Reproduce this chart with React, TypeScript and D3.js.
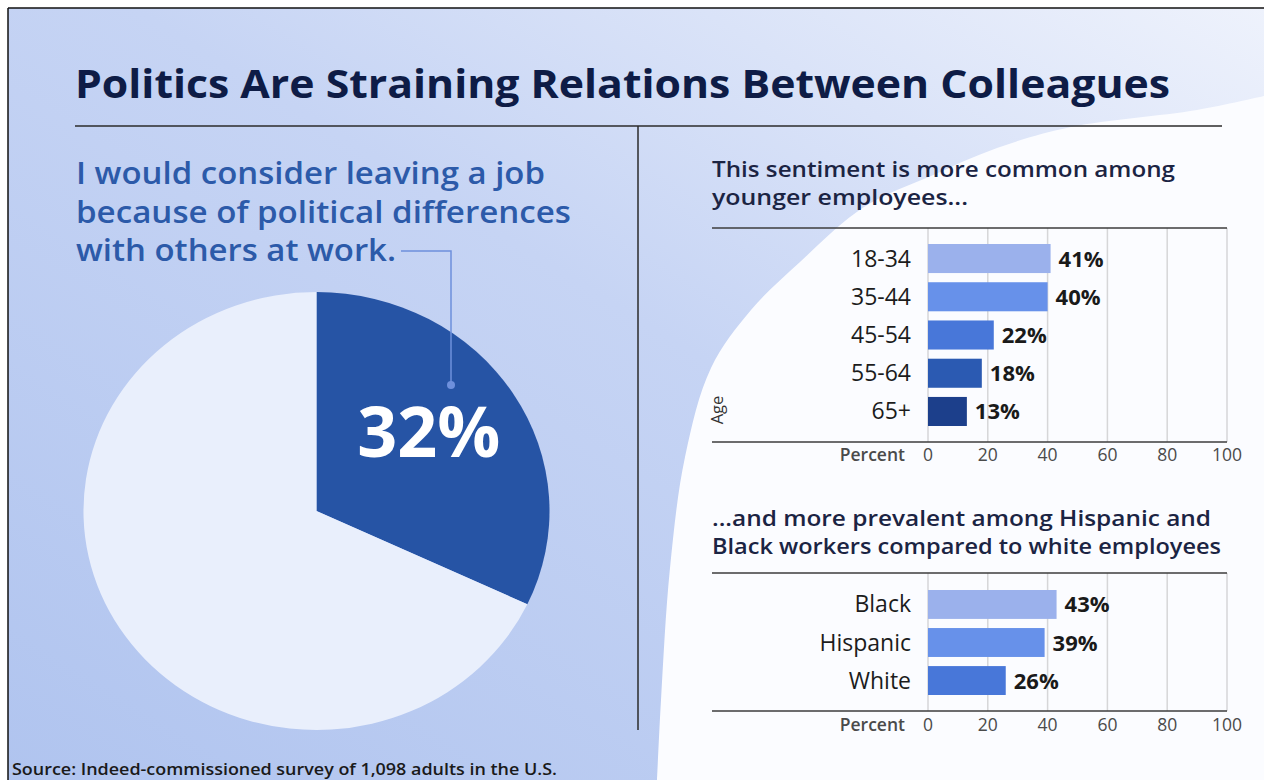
import React from "react";
import * as d3 from "d3";

const pieValues = [32, 68];
const pieLabel = "32%";
const ageCategories = ["18-34", "35-44", "45-54", "55-64", "65+"];
const ageValues = [41, 40, 22, 18, 13];
const ageColors = ["#9bb1ec", "#6791ea", "#4877d9", "#2b5ab2", "#1c3f8b"];
const raceCategories = ["Black", "Hispanic", "White"];
const raceValues = [43, 39, 26];
const raceColors = ["#9bb1ec", "#6791ea", "#4877d9"];
const xTicks = [0, 20, 40, 60, 80, 100];

const FONT = "'Open Sans', 'Noto Sans', sans-serif";

// decorative background arc (white swoosh)
const arcPts: [number, number][] = [
  [1264, 96], [1197, 110], [1071, 127], [997, 148], [931, 176], [864, 207],
  [800, 262], [751, 310], [711, 368], [685, 457], [670, 568], [661, 700], [657, 780],
];

function BarPanel({ cats, vals, colors, top, bottom, barTop, barBottom, tickY, showAge }: any) {
  const x = d3.scaleLinear().domain([0, 100]).range([928, 1227]);
  const y = d3.scaleBand<string>().domain(cats).range([barTop, barBottom]).paddingInner(0.24).paddingOuter(0);
  return (
    <g>
      {xTicks.map((t) => (
        <line key={"g" + t} x1={x(t)} x2={x(t)} y1={top} y2={bottom} stroke="#d6d6d8" strokeWidth={1.5} />
      ))}
      <line x1={712} x2={x(100)} y1={top} y2={top} stroke="#3c3c3c" strokeWidth={1.5} />
      <line x1={712} x2={x(100)} y1={bottom} y2={bottom} stroke="#3c3c3c" strokeWidth={1.5} />
      {cats.map((c: string, i: number) => (
        <g key={c}>
          <rect x={x(0)} y={y(c)} width={x(vals[i]) - x(0)} height={y.bandwidth()} fill={colors[i]} />
          <text x={911} y={(y(c) as number) + y.bandwidth() / 2 + 8} textAnchor="end" fontSize={23} fontWeight={500} fill="#1c1c1c">{c}</text>
          <text x={x(vals[i]) + 8} y={(y(c) as number) + y.bandwidth() / 2 + 8} fontSize={22} fontWeight={700} fill="#1a1a1a">{vals[i] + "%"}</text>
        </g>
      ))}
      {xTicks.map((t) => (
        <text key={"t" + t} x={x(t)} y={tickY} textAnchor="middle" fontSize={17.5} fontWeight={500} fill="#4a4a4a">{t}</text>
      ))}
      <text x={905} y={tickY} textAnchor="end" fontSize={17.5} fontWeight={600} fill="#4a4a4a">Percent</text>
      {showAge && (
        <text transform={`translate(723,${bottom - 32}) rotate(-90)`} textAnchor="middle" fontSize={16.5} fontWeight={500} fill="#333">Age</text>
      )}
    </g>
  );
}

export default function App() {
  const pie = d3.pie<number>().sort(null)(pieValues);
  const R = 219;
  const arc = d3.arc<d3.PieArcDatum<number>>().innerRadius(0).outerRadius(R);
  const labelArc = d3.arc<d3.PieArcDatum<number>>().innerRadius(0).outerRadius(250);
  const cx = 316.5, cy = 511, sx = 1.064;
  const c = labelArc.centroid(pie[0]);
  const swoosh = d3.line().curve(d3.curveCatmullRom)(arcPts) + " L1264,780 Z";

  return (
    <svg width={1264} height={780} style={{ position: "absolute", left: 0, top: 0 }} fontFamily={FONT}>
      <defs>
        <linearGradient id="bg" x1="0" y1="1" x2="1" y2="0">
          <stop offset="0" stopColor="#b0c4ef" />
          <stop offset="0.55" stopColor="#c6d4f4" />
          <stop offset="1" stopColor="#eef2fc" />
        </linearGradient>
      </defs>
      <rect x={0} y={0} width={1264} height={780} fill="#ffffff" />
      <rect x={8} y={8} width={1256} height={772} fill="url(#bg)" />
      <path d={swoosh} fill="#fbfcff" />
      <line x1={8} x2={1264} y1={8} y2={8} stroke="#111" strokeWidth={1.5} />
      <line x1={8} x2={8} y1={8} y2={780} stroke="#111" strokeWidth={1.5} />

      <text x={75} y={98} fontSize={40} fontWeight={700} fill="#0e1c46" textLength={1095} lengthAdjust="spacingAndGlyphs">
        Politics Are Straining Relations Between Colleagues
      </text>
      <line x1={75} x2={1222} y1={126} y2={126} stroke="#2b2b2b" strokeWidth={1.5} />
      <line x1={638} x2={638} y1={126} y2={730} stroke="#2b2b2b" strokeWidth={1.5} />

      <g fill="#2c5aa9" fontSize={31} fontWeight={600}>
        <text x={76} y={184} textLength={469} lengthAdjust="spacingAndGlyphs">I would consider leaving a job</text>
        <text x={76} y={223} textLength={495} lengthAdjust="spacingAndGlyphs">because of political differences</text>
        <text x={76} y={261} textLength={320} lengthAdjust="spacingAndGlyphs">with others at work.</text>
      </g>

      <g transform={`translate(${cx},${cy}) scale(${sx},1)`}>
        <path d={arc(pie[0]) as string} fill="#2654a5" />
        <path d={arc(pie[1]) as string} fill="#e9effc" />
      </g>
      <polyline points={`401,251 451,251 451,385`} fill="none" stroke="#6e90dc" strokeWidth={1.5} />
      <circle cx={451} cy={385} r={4} fill="#6e90dc" />
      <text x={cx + c[0] * sx} y={cy + c[1] + 13} textAnchor="middle" fontSize={70} fontWeight={700} fill="#ffffff">{pieLabel}</text>

      <g fill="#1b2443" fontSize={22} fontWeight={600}>
        <text x={712} y={177} textLength={463} lengthAdjust="spacingAndGlyphs">This sentiment is more common among</text>
        <text x={712} y={205} textLength={256} lengthAdjust="spacingAndGlyphs">younger employees...</text>
        <text x={712} y={526} textLength={499} lengthAdjust="spacingAndGlyphs">...and more prevalent among Hispanic and</text>
        <text x={712} y={554} textLength={509} lengthAdjust="spacingAndGlyphs">Black workers compared to white employees</text>
      </g>

      <BarPanel cats={ageCategories} vals={ageValues} colors={ageColors} top={228} bottom={442} barTop={244} barBottom={426} tickY={461} showAge />
      <BarPanel cats={raceCategories} vals={raceValues} colors={raceColors} top={573} bottom={711} barTop={590} barBottom={695} tickY={731} showAge={false} />

      <text x={12} y={775} fontSize={16} fontWeight={600} fill="#1a1a1a" textLength={545} lengthAdjust="spacingAndGlyphs">
        Source: Indeed-commissioned survey of 1,098 adults in the U.S.
      </text>
    </svg>
  );
}
